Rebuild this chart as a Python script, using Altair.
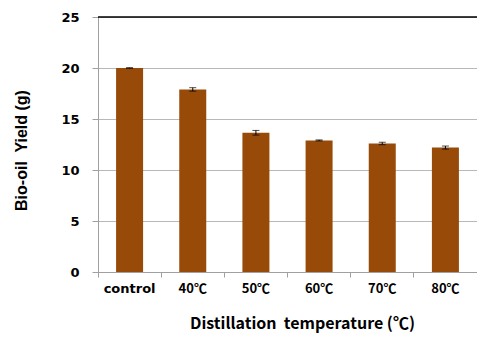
import altair as alt
import pandas as pd

categories = ["control", "40℃", "50℃", "60℃", "70℃", "80℃"]
yields = [20.0, 17.9, 13.65, 12.9, 12.6, 12.2]
errors = [0.03, 0.17, 0.23, 0.05, 0.12, 0.15]

df = pd.DataFrame({"cat": categories, "y": yields, "err": errors})
df["lo"] = df["y"] - df["err"]
df["hi"] = df["y"] + df["err"]

W, H = 379, 255
xs = alt.X("cat:N", sort=categories,
           scale=alt.Scale(paddingInner=0, paddingOuter=0),
           axis=alt.Axis(title="Distillation\u00a0 temperature (℃)", labelAngle=0,
                         bandPosition=0, ticks=True, tickSize=5,
                         tickColor="#A0A0A0", domainColor="#A0A0A0",
                         labelFont=alt.ExprRef("datum.label == 'control' ? 'DejaVu Sans' : 'Noto Sans CJK KR'"),
                         labelFontWeight="bold", labelFontSize=13,
                         labelPadding=5, labelColor="#000000",
                         titleFont="Noto Sans CJK KR", titleFontWeight="bold", titleFontSize=16,
                         titleColor="#000000", titleX=204, titleY=51,
                         titleBaseline="middle", titleAnchor="start", titleAlign="center",
                         grid=False))
ys = alt.Y("y:Q", scale=alt.Scale(domain=[0, 25], nice=False),
           axis=alt.Axis(title="Bio-oil\u00a0 Yield (g)", values=[0, 5, 10, 15, 20, 25],
                         grid=True, gridColor="#B8B8B8", domainColor="#A0A0A0",
                         tickColor="#A0A0A0", tickSize=6, labelPadding=13,
                         labelFont="DejaVu Sans", labelFontWeight="bold", labelFontSize=13,
                         labelColor="#000000",
                         titleFont="Liberation Sans", titleFontWeight="bold", titleFontSize=16,
                         titleColor="#000000", titleX=-77, titleY=133,
                         titleBaseline="middle", titleAlign="center", titleAngle=-90))

base = alt.Chart(df)
bars = base.mark_bar(color="#984A09", width=27).encode(x=xs, y=ys)
rule = base.mark_rule(color="#000000", strokeWidth=1).encode(
    x=alt.X("cat:N", sort=categories), y="lo:Q", y2="hi:Q")
caps_lo = base.mark_tick(color="#000000", size=7, thickness=1, orient="horizontal").encode(
    x=alt.X("cat:N", sort=categories), y="lo:Q")
caps_hi = base.mark_tick(color="#000000", size=7, thickness=1, orient="horizontal").encode(
    x=alt.X("cat:N", sort=categories), y="hi:Q")
top = alt.Chart(pd.DataFrame({"t": [25]})).mark_rule(color="#000000", strokeWidth=1.5).encode(
    y="t:Q")

chart = alt.layer(bars, rule, caps_lo, caps_hi, top).properties(
    width=W, height=H, autosize=alt.AutoSizeParams(type="none"),
    padding={"left": 90, "top": 9, "right": 0, "bottom": 61}
).configure_view(stroke=None).configure(background="#FFFFFF")

chart.save("out.html", embed_options={"renderer": "svg", "actions": False})
